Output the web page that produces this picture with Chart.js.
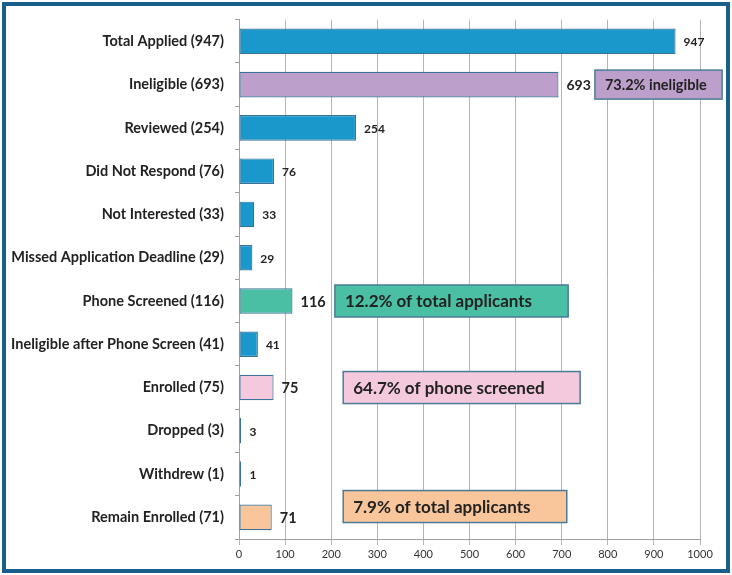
<!DOCTYPE html>
<html>
<head>
<meta charset="utf-8">
<script src="https://cdn.jsdelivr.net/npm/chart.js@4"></script>
<style>
  html, body { margin: 0; padding: 0; background: #ffffff; }
  #wrap { position: relative; width: 732px; height: 575px; }
</style>
</head>
<body>
<div id="wrap"><canvas id="c" width="732" height="575"></canvas></div>
<script>
// ---- data ----
const categories = [
  'Total Applied (947)', 'Ineligible (693)', 'Reviewed (254)', 'Did Not Respond (76)',
  'Not Interested (33)', 'Missed Application Deadline (29)', 'Phone Screened (116)',
  'Ineligible after Phone Screen (41)', 'Enrolled (75)', 'Dropped (3)', 'Withdrew (1)',
  'Remain Enrolled (71)'
];
const values = [947, 693, 254, 76, 33, 29, 116, 41, 75, 3, 1, 71];
const xTickMin = 0;
const xTickMax = 1000;
const xTickStep = 100;
const noteTexts = ['73.2% ineligible', '12.2% of total applicants', '64.7% of phone screened', '7.9% of total applicants'];

// ---- styles ----
const BLUE = '#1a97cb', PURPLE = '#bc9fcb', GREEN = '#4bbfa3', PINK = '#f5c9dd', PEACH = '#f9c59b';
const barColors = [BLUE, PURPLE, BLUE, BLUE, BLUE, BLUE, GREEN, BLUE, PINK, BLUE, BLUE, PEACH];
const labelSizes = [12, 14, 12, 12, 12, 12, 14.5, 12, 14.5, 12, 12, 14.5];
const FONT = 'Lato, "Open Sans", sans-serif';
// annotation boxes, placed in data space (x from/to in axis units, row = category index)
const notes = [
  { text: noteTexts[0], from: 772, to: 1048, row: 1, h: 29, size: 14.5, fill: PURPLE },
  { text: noteTexts[1], from: 208, to: 714, row: 6, h: 32, size: 17, fill: GREEN },
  { text: noteTexts[2], from: 226, to: 740, row: 8, h: 32, size: 17, fill: PINK },
  { text: noteTexts[3], from: 226, to: 711, row: 10.75, h: 32, size: 17, fill: PEACH }
];

const framePlugin = {
  id: 'frame',
  beforeDraw(chart) {
    const ctx = chart.ctx;
    ctx.save();
    ctx.fillStyle = '#ffffff';
    ctx.fillRect(0, 0, chart.width, chart.height);
    ctx.restore();
  },
  afterDraw(chart) {
    const ctx = chart.ctx;
    ctx.save();
    ctx.strokeStyle = '#1a5f8c';
    ctx.lineWidth = 4;
    ctx.strokeRect(4, 4, chart.width - 8, chart.height - 8);
    ctx.restore();
  }
};

const labelPlugin = {
  id: 'valueLabels',
  afterDatasetsDraw(chart) {
    const ctx = chart.ctx;
    const meta = chart.getDatasetMeta(0);
    ctx.save();
    ctx.fillStyle = '#222222';
    ctx.textBaseline = 'middle';
    ctx.textAlign = 'left';
    meta.data.forEach((bar, i) => {
      ctx.font = 'bold ' + labelSizes[i] + 'px ' + FONT;
      ctx.fillText(String(values[i]), Math.max(bar.x, bar.base + 2) + 8, bar.y + 1);
    });
    // annotation boxes
    const xs = chart.scales.x, ys = chart.scales.y;
    notes.forEach(n => {
      const x0 = xs.getPixelForValue(n.from);
      const x1 = xs.getPixelForValue(n.to);
      const yc = ys.getPixelForValue(n.row);
      ctx.fillStyle = n.fill;
      ctx.fillRect(x0, yc - n.h / 2, x1 - x0, n.h);
      ctx.strokeStyle = '#4c7b98';
      ctx.lineWidth = 1.5;
      ctx.strokeRect(x0, yc - n.h / 2, x1 - x0, n.h);
      ctx.fillStyle = '#222222';
      ctx.font = 'bold ' + n.size + 'px ' + FONT;
      ctx.fillText(n.text, x0 + 10, yc + 1);
    });
    ctx.restore();
  }
};

new Chart(document.getElementById('c'), {
  type: 'bar',
  data: {
    labels: categories,
    datasets: [{
      data: values,
      backgroundColor: barColors,
      borderColor: '#3a7397',
      borderWidth: 1.2,
      borderSkipped: false,
      minBarLength: 2,
      categoryPercentage: 1,
      barPercentage: 0.59
    }]
  },
  options: {
    indexAxis: 'y',
    responsive: false,
    animation: false,
    devicePixelRatio: 1,
    layout: { padding: { left: 0, top: 18, right: 32, bottom: 6 } },
    plugins: { legend: { display: false }, tooltip: { enabled: false } },
    scales: {
      x: {
        min: xTickMin, max: xTickMax,
        ticks: { stepSize: xTickStep, color: '#333333', font: { family: FONT, size: 11 }, padding: 3, maxRotation: 0,
                 callback: (v) => String(v) },
        grid: { color: '#b5b5b5', lineWidth: 1, tickLength: 6 },
        border: { color: '#a0a0a0' },
        afterFit(scale) { scale.height = 30; }
      },
      y: {
        ticks: { color: '#222222', font: { family: FONT, size: 14.5, weight: 'bold' }, padding: 11 },
        grid: { display: true, drawOnChartArea: false, offset: true, tickLength: 4, color: '#a0a0a0' },
        border: { color: '#a0a0a0' },
        afterFit(scale) { scale.width = 239; }
      }
    }
  },
  plugins: [framePlugin, labelPlugin]
});
</script>
</body>
</html>
